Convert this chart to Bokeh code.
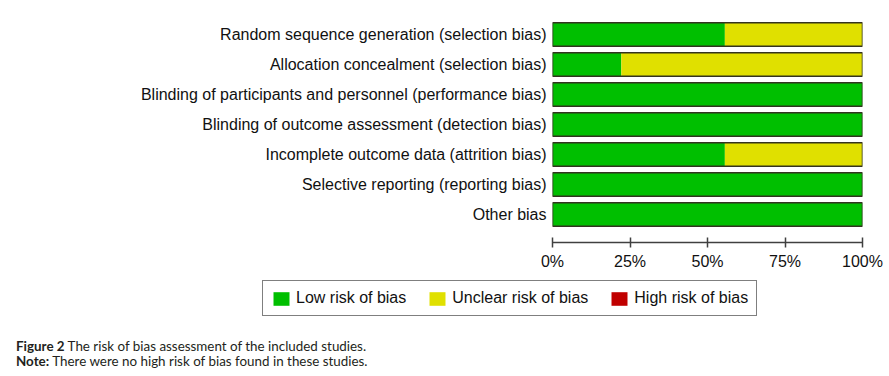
from bokeh.plotting import figure
from bokeh.models import (ColumnDataSource, FactorRange, Range1d, FixedTicker,
                          Legend, Div)
from bokeh.layouts import column
from bokeh.embed import file_html
from bokeh.resources import INLINE

categories = [
    "Random sequence generation (selection bias)",
    "Allocation concealment (selection bias)",
    "Blinding of participants and personnel (performance bias)",
    "Blinding of outcome assessment (detection bias)",
    "Incomplete outcome data (attrition bias)",
    "Selective reporting (reporting bias)",
    "Other bias",
]
low_risk = [55.6, 22.2, 100, 100, 55.6, 100, 100]
unclear_risk = [44.4, 77.8, 0, 0, 44.4, 0, 0]
high_risk = [0, 0, 0, 0, 0, 0, 0]
series_names = ["Low risk of bias", "Unclear risk of bias", "High risk of bias"]
series_colors = ["#00bf00", "#e0e000", "#c00000"]
x_ticks = [0, 25, 50, 75, 100]
x_tick_labels = ["0%", "25%", "50%", "75%", "100%"]
caption_bold = ["Figure 2", "Note:"]
caption_text = ["The risk of bias assessment of the included studies.",
                "There were no high risk of bias found in these studies."]

total = [a + b + c for a, b, c in zip(low_risk, unclear_risk, high_risk)]
source = ColumnDataSource(dict(cat=categories, low=low_risk, unclear=unclear_risk,
                               high=high_risk, total=total))

FONT = "Liberation Sans"

# ---- main chart ----
p = figure(width=889, height=280, output_backend="svg", toolbar_location=None,
           y_range=FactorRange(factors=list(reversed(categories)),
                               range_padding=0.433, range_padding_units="absolute"),
           x_range=Range1d(0, 100),
           min_border_left=552, min_border_right=27, min_border_top=6,
           min_border_bottom=38)
p.outline_line_color = None
p.xgrid.grid_line_color = None
p.ygrid.grid_line_color = None

p.hbar_stack(["low", "unclear", "high"], y="cat", height=0.78,
             color=series_colors, line_color=None, source=source)
p.hbar(y="cat", left=0, right="total", height=0.78, fill_color=None,
       line_color="#33331f", line_width=1.5, source=source)

xa = p.xaxis[0]
xa.ticker = FixedTicker(ticks=x_ticks)
xa.major_label_overrides = {t: l for t, l in zip(x_ticks, x_tick_labels)}
xa.major_tick_in = 5
xa.major_tick_out = 5
xa.minor_tick_line_color = None
xa.axis_line_color = "#404040"
xa.axis_line_width = 1.5
xa.major_tick_line_color = "#404040"
xa.major_tick_line_width = 1.5
xa.major_label_text_font = FONT
xa.major_label_text_font_size = "16px"
xa.major_label_text_color = "#111111"
xa.major_label_standoff = 5

ya = p.yaxis[0]
ya.axis_line_color = None
ya.major_tick_line_color = None
ya.minor_tick_line_color = None
ya.major_tick_out = 0
ya.major_tick_in = 0
ya.major_label_standoff = 6
ya.major_label_text_font = FONT
ya.major_label_text_font_size = "16px"
ya.major_label_text_color = "#111111"

# ---- legend strip (same series; the bars themselves fall outside its range) ----
lg = figure(width=889, height=40, output_backend="svg", toolbar_location=None,
            x_range=Range1d(0, 100), y_range=FactorRange(factors=["legend"]),
            x_axis_location=None, y_axis_location=None,
            min_border=0, outline_line_color=None)
lg.frame_align = False
lg.xgrid.grid_line_color = None
lg.ygrid.grid_line_color = None
leg_renderers = lg.hbar_stack(["low", "unclear", "high"], y="cat", height=0.78,
                              color=series_colors, line_color=None,
                              source=source)
legend = Legend(items=[(n, [r]) for n, r in zip(series_names, leg_renderers)],
                orientation="horizontal", location=(262, 4),
                label_text_font=FONT, label_text_font_size="16px",
                label_text_color="#111111",
                glyph_width=20, glyph_height=17, label_height=14,
                label_standoff=5, spacing=21, padding=8, margin=0,
                border_line_color="black", border_line_width=1,
                background_fill_alpha=1)
lg.add_layout(legend, "center")

# ---- caption ----
caption_html = "<br>".join(f"<b>{b}</b> {t}" for b, t in zip(caption_bold, caption_text))
div = Div(text=caption_html, width=889, height=56,
          styles={"font-family": "Lato", "font-size": "13.4px", "line-height": "15px",
                  "color": "#231f20", "padding-left": "11px", "padding-top": "14px",
                  "box-sizing": "border-box"})

layout = column(p, lg, div, spacing=0)
open("out.html", "w").write(file_html(layout, INLINE))
